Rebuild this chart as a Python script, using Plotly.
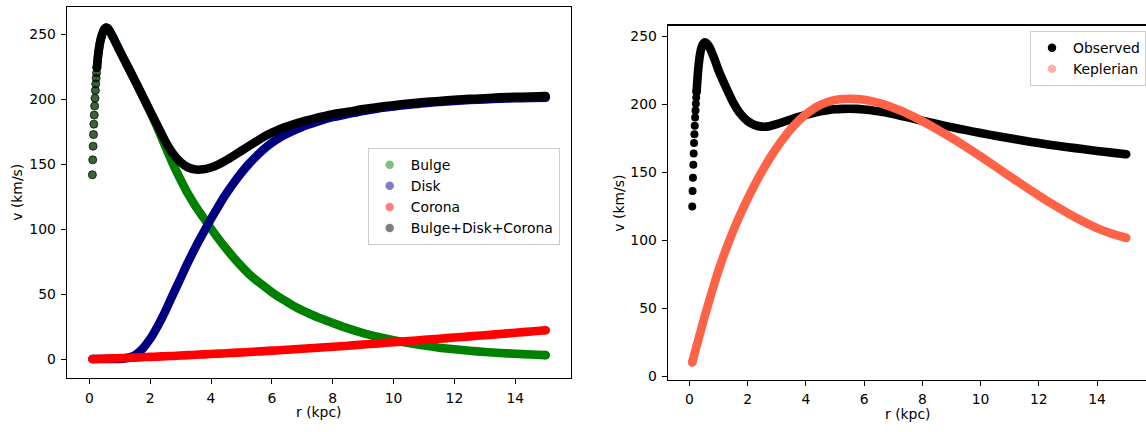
import plotly.graph_objects as go

# ---------------- data ----------------
r = [0.1, 0.1125, 0.125, 0.1375, 0.15, 0.1625, 0.175, 0.1875, 0.2, 0.2125, 0.225, 0.2375, 0.25,
     0.3, 0.35, 0.4, 0.45, 0.5, 0.55, 0.6,
     0.7, 0.8, 0.9, 1.0,
     1.25, 1.5, 1.75, 2.0, 2.25, 2.5, 2.75, 3.0, 3.25, 3.5, 3.75, 4.0, 4.25, 4.5, 4.75, 5.0,
     5.25, 5.5, 5.75, 6.0, 6.25, 6.5, 6.75, 7.0, 7.25, 7.5, 7.75, 8.0,
     8.5, 9.0, 9.5, 10.0, 10.5, 11.0, 11.5, 12.0, 12.5, 13.0, 13.5, 14.0, 14.5, 15.0]

bulge = [142, 153.5, 164, 173, 181, 188, 195, 201, 207, 212, 216.5, 220.5, 224.5,
         236, 243.6, 248.5, 252, 254.5, 255.5, 255,
         251.5, 247, 242.3, 237.5,
         226, 214.5, 202.6, 190.4, 177.7, 163.7, 150.2, 138.2, 127, 117.5, 109, 100.5, 92.5, 85, 78, 71.5,
         65.5, 60.5, 56, 51.5, 47.5, 44, 40.5, 37.5, 34.8, 32.2, 30, 27.8,
         23.6, 20, 17, 14.5, 12.3, 10.4, 8.8, 7.5, 6.4, 5.5, 4.7, 4.1, 3.5, 3.0]

disk = [0, 0, 0, 0, 0, 0, 0, 0, 0, 0, 0, 0, 0,
        0, 0, 0, 0, 0, 0, 0,
        0, 0, 0, 0.1,
        0.8, 3.0, 8.0, 15.5, 25.5, 37, 49.8, 62.3, 74.8, 86.6, 97.4, 108, 118, 127.4, 135.9, 143.6,
        150.5, 156.5, 162, 166.6, 170.5, 173.7, 176.5, 178.9, 181, 183, 184.8, 186.4,
        188.8, 191.2, 193.1, 194.6, 196, 197.2, 198.1, 198.9, 199.6, 200.1, 200.6, 200.9, 201.2, 201.4]

corona = [0.1, 0.1, 0.1, 0.1, 0.1, 0.1, 0.1, 0.1, 0.1, 0.1, 0.1, 0.1, 0.1,
          0.2, 0.2, 0.3, 0.3, 0.3, 0.4, 0.4,
          0.5, 0.5, 0.6, 0.7,
          0.9, 1.1, 1.4, 1.7, 1.9, 2.2, 2.4, 2.7, 3.0, 3.3, 3.6, 3.9, 4.2, 4.5, 4.8, 5.1,
          5.4, 5.8, 6.1, 6.5, 6.8, 7.2, 7.5, 7.9, 8.3, 8.7, 9.1, 9.5,
          10.3, 11.2, 12.1, 13.0, 13.9, 14.8, 15.7, 16.6, 17.5, 18.4, 19.3, 20.3, 21.2, 22.2]

total = [142, 153.5, 164, 173, 181, 188, 195, 201, 207, 212, 216.5, 220.5, 224.5,
         236, 243.6, 248.5, 252, 254.5, 255.5, 255,
         251.5, 247, 242.3, 237.5,
         226, 214.5, 202.8, 191, 179.5, 167.8, 158.3, 151.6, 147.6, 146, 146.2, 147.6, 150, 153.2, 156.8, 160.5,
         164.2, 167.9, 171.5, 174.5, 177.1, 179.3, 181.2, 183, 184.5, 186, 187.4, 188.7,
         190.5, 192.6, 194.2, 195.6, 196.9, 198, 198.9, 199.7, 200.5, 201, 201.6, 202, 202.3, 202.6]

observed = [124.8, 136.2, 145.9, 155.5, 163.8, 171.5, 177.8, 184.1, 190.1, 195.4, 200.2, 204.8, 209,
            224, 234, 240, 243.3, 245, 245.3, 244.5,
            241.5, 236.5, 231, 225,
            212.8, 201.5, 193, 187.6, 184.6, 183.5, 183.8, 185.3, 187.1, 188.9, 190.6, 192.1, 193.5, 194.7, 195.6, 196.2,
            196.5, 196.6, 196.5, 196.1, 195.5, 194.8, 193.8, 192.7, 191.5, 190.3, 189.1, 187.8,
            185.4, 183.1, 180.9, 178.8, 176.8, 174.9, 173.1, 171.4, 169.8, 168.4, 167, 165.6, 164.4, 163.2]

keplerian = [10.4, 11.4, 12.4, 13.4, 14.4, 15.4, 16.4, 17.4, 18.4, 19.4, 20.4, 21.4, 22.4,
             26.2, 30.2, 34.1, 38.0, 41.9, 45.7, 49.4,
             56.8, 64, 71, 77.8,
             93, 106.6, 119, 130.4, 141, 150.8, 159.8, 168, 175.4, 182, 187.7, 192.5, 196.4, 199.4, 201.6, 203,
             203.7, 204, 203.8, 203.2, 202.2, 200.9, 199.3, 197.4, 195.3, 192.9, 190.3, 187.5,
             181.6, 175.3, 168.6, 161.6, 154.4, 147.1, 139.9, 132.9, 126.2, 119.9, 114.1, 109, 104.9, 101.8]

x_ticks = [0, 2, 4, 6, 8, 10, 12, 14]
y_ticks = [0, 50, 100, 150, 200, 250]

# ---------------- styling ----------------
W, H = 1146, 432
N_SPARSE = 13          # leading points that appear as separate dots
MS = 8.6               # stroke width / end-cap diameter (px)
FONT = "DejaVu Sans"
FS = 13.9


def px(x):
    return x / W


def py(y):
    return 1 - y / H


fig = go.Figure()


def add_stroke(x, y, color, xa, ya, start=0):
    xs, ys = x[start:], y[start:]
    caps = [MS] + [0] * (len(xs) - 2) + [MS]   # round caps only at the two ends
    fig.add_trace(go.Scatter(
        x=xs, y=ys, mode="lines+markers",
        line=dict(color=color, width=MS, shape="spline", smoothing=0.8),
        marker=dict(color=color, size=caps, opacity=1, line=dict(width=0)),
        showlegend=False, hoverinfo="skip", xaxis=xa, yaxis=ya))


def add_dots(x, y, color, xa, ya, stop, edge=0):
    fig.add_trace(go.Scatter(
        x=x[:stop], y=y[:stop], mode="markers",
        marker=dict(color=color, size=MS - 0.6, opacity=1, line=dict(width=edge, color=color)),
        showlegend=False, hoverinfo="skip", xaxis=xa, yaxis=ya))


def add_legend_entry(name, color, legend, xa, ya):
    fig.add_trace(go.Scatter(
        x=[None], y=[None], mode="markers", name=name,
        marker=dict(color=color, size=8.5, opacity=1, line=dict(width=0)),
        legend=legend, legendgroup=name, xaxis=xa, yaxis=ya))


# left panel: components
add_stroke(r, bulge, "rgb(0,128,0)", "x", "y", N_SPARSE - 1)
add_dots(r, bulge, "rgba(0,128,0,0.5)", "x", "y", N_SPARSE, edge=1)
add_stroke(r, disk, "rgb(0,0,128)", "x", "y")
add_stroke(r, corona, "rgb(255,0,0)", "x", "y")
add_stroke(r, total, "rgb(0,0,0)", "x", "y", N_SPARSE - 1)
add_dots(r, total, "rgba(0,0,0,0.5)", "x", "y", N_SPARSE, edge=1)

add_legend_entry("Bulge", "rgba(0,128,0,0.5)", "legend", "x", "y")
add_legend_entry("Disk", "rgba(0,0,128,0.5)", "legend", "x", "y")
add_legend_entry("Corona", "rgba(255,0,0,0.5)", "legend", "x", "y")
add_legend_entry("Bulge+Disk+Corona", "rgba(0,0,0,0.5)", "legend", "x", "y")

# right panel: observed vs keplerian
add_stroke(r, observed, "rgb(0,0,0)", "x2", "y2", N_SPARSE - 1)
add_dots(r, observed, "rgb(0,0,0)", "x2", "y2", N_SPARSE)
add_stroke(r, keplerian, "rgb(255,99,71)", "x2", "y2")

add_legend_entry("Observed", "rgb(0,0,0)", "legend2", "x2", "y2")
add_legend_entry("Keplerian", "rgba(255,99,71,0.5)", "legend2", "x2", "y2")

axis_common = dict(
    showline=True, linecolor="black", linewidth=1.1,
    ticks="outside", ticklen=5, tickwidth=1.1, tickcolor="black",
    showgrid=False, zeroline=False,
    tickfont=dict(family=FONT, size=FS, color="black"),
)

legend_common = dict(
    bgcolor="rgba(255,255,255,0.8)", bordercolor="#cccccc", borderwidth=1,
    font=dict(family=FONT, size=FS, color="black"),
    xanchor="left", yanchor="top", tracegroupgap=0,
    itemwidth=32,
)

fig.update_layout(
    width=W, height=H,
    margin=dict(l=0, r=0, t=0, b=0),
    paper_bgcolor="white", plot_bgcolor="white",
    font=dict(family=FONT, size=FS, color="black"),
    xaxis=dict(domain=[px(66.7), px(571)], range=[-0.743, 15.83], anchor="y",
               tickvals=x_ticks, mirror=True, ticklabelstandoff=2, **axis_common),
    yaxis=dict(domain=[py(382.7), py(7.3)], range=[-14.8, 271.1], anchor="x",
               tickvals=y_ticks, mirror=True, ticklabelstandoff=2, **axis_common),
    xaxis2=dict(domain=[px(667.7), 1.0], range=[-0.742, 15.68], anchor="y2",
                tickvals=x_ticks, mirror=True, ticklabelstandoff=2, **axis_common),
    yaxis2=dict(domain=[py(384), py(25.7)], range=[-2.2, 257.8], anchor="x2",
                tickvals=y_ticks, mirror=False, ticklabelstandoff=2, **axis_common),
    legend=dict(x=px(367.7), y=py(150), **legend_common),
    legend2=dict(x=px(1030), y=py(31.5), **legend_common),
    annotations=[
        dict(text="r (kpc)", x=px(318.9), y=py(417), xref="paper", yref="paper",
             showarrow=False, xanchor="center", yanchor="middle",
             font=dict(family=FONT, size=FS, color="black")),
        dict(text="v (km/s)", x=px(17), y=py(195), xref="paper", yref="paper",
             showarrow=False, xanchor="center", yanchor="middle", textangle=-90,
             font=dict(family=FONT, size=FS, color="black")),
        dict(text="r (kpc)", x=px(907.5), y=py(418.5), xref="paper", yref="paper",
             showarrow=False, xanchor="center", yanchor="middle",
             font=dict(family=FONT, size=FS, color="black")),
        dict(text="v (km/s)", x=px(619), y=py(205), xref="paper", yref="paper",
             showarrow=False, xanchor="center", yanchor="middle", textangle=-90,
             font=dict(family=FONT, size=FS, color="black")),
    ],
)

# top border line of the right panel (its right spine lies outside the picture)
fig.add_shape(type="line", xref="paper", yref="paper",
              x0=px(667.7), x1=1.0, y0=py(25.7), y1=py(25.7),
              line=dict(color="black", width=1.1))

fig.write_html("out.html", config={"displayModeBar": False})
